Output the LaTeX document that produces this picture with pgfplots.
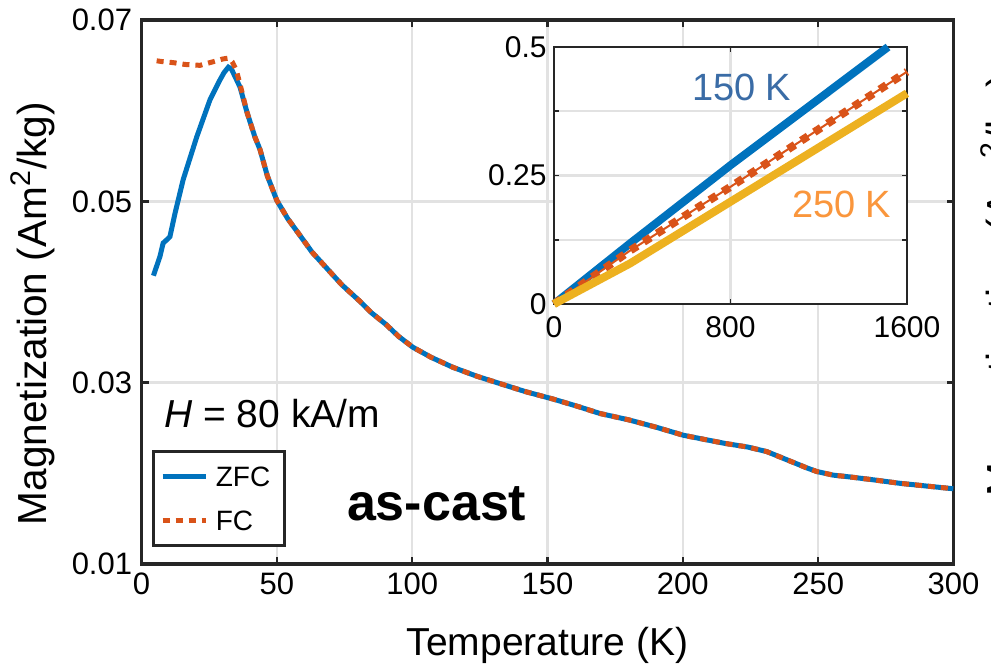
\documentclass[border=0pt]{standalone}
\usepackage{fontspec}
\setmainfont{Liberation Sans}
\usepackage{pgfplots}
\pgfplotsset{compat=1.18}

\definecolor{zfcblue}{RGB}{0,114,189}
\definecolor{fcorange}{RGB}{217,83,25}
\definecolor{matyellow}{RGB}{237,177,32}
\definecolor{gridgray}{RGB}{226,226,226}
\definecolor{axisdark}{RGB}{38,38,38}
\definecolor{txtblue}{RGB}{58,108,166}
\definecolor{txtorange}{RGB}{250,150,60}

% 1 px of the reference = 0.5pt
\begin{document}
\begin{tikzpicture}
\useasboundingbox (0,0) rectangle (495.5pt,333pt);

\begin{axis}[
  at={(70.75pt,51pt)}, anchor=south west,
  scale only axis, width=406pt, height=272pt,
  xmin=0, xmax=300, ymin=0.01, ymax=0.07,
  xtick={0,50,...,300},
  ytick={0.01,0.03,0.05,0.07},
  yticklabels={0.01,0.03,0.05,0.07},
  scaled y ticks=false,
  /pgf/number format/assume math mode=true,
  ticklabel style={font=\fontsize{15.5}{18}\selectfont},
  xticklabel style={inner sep=0pt, yshift=-4pt},
  yticklabel style={inner sep=0pt, xshift=-4.5pt},
  grid=major,
  major grid style={line width=1.2pt, gridgray},
  axis line style={line width=1.65pt, axisdark},
  tick style={line width=1.2pt, axisdark},
  major tick length=3.5pt,
  tick align=inside,
  xlabel={Temperature (K)},
  ylabel={Magnetization (Am\textsuperscript{2}/kg)},
  xlabel style={font=\fontsize{19.5}{22}\selectfont, at={(axis description cs:0.5,0)}, anchor=base, yshift=-45.5pt},
  ylabel style={font=\fontsize{20.3}{23}\selectfont, at={(axis description cs:-0.1176,0.46)}, anchor=base},
  legend style={at={(rel axis cs:0.0126,0.0307)}, anchor=south west,
    draw=axisdark, line width=1.5pt, fill=white,
    font=\fontsize{14}{16}\selectfont,
    inner xsep=3.5pt, inner ysep=7.65pt, row sep=12pt,
    nodes={inner sep=0pt, text height=10pt, text depth=0pt, text width=31pt, align=left}},
  legend image code/.code={\draw[#1] (0pt,0pt) -- (21.5pt,0pt);},
  /tikz/every odd column/.append style={column sep=3.8pt},
  legend cell align=left,
]
\addplot[zfcblue, line width=2.5pt] coordinates {
(4.4,0.0418) (6.8,0.0439) (8.0,0.0454) (9.5,0.0458) (10.5,0.0461) (12.4,0.0487)
(15.4,0.0524) (20.4,0.0571) (25.3,0.0612) (29.0,0.0634) (30.5,0.0642) (32.1,0.0648)
(33.2,0.0646) (34.5,0.0638) (36.4,0.0626) (39.0,0.0598) (41.9,0.0571) (43.8,0.0557)
(46.5,0.0528) (50.0,0.0501) (54.0,0.0481) (58.4,0.0463) (63.0,0.0444) (68.2,0.0427)
(74.0,0.0408) (80.6,0.0390) (85.0,0.0377) (90.4,0.0364) (95.0,0.0351) (100.3,0.0339)
(107,0.0328) (115,0.0317) (124,0.0307) (133.5,0.0298) (142,0.0290) (152,0.0282)
(161,0.0274) (169.4,0.0266) (180,0.0259) (190,0.0251) (200.2,0.0242) (207,0.0238)
(215.6,0.0233) (224,0.0229) (231,0.0224) (238.4,0.0215) (245.8,0.0206) (249.5,0.0202)
(255.6,0.0198) (261.8,0.0196) (270,0.0193) (280.2,0.0189) (290,0.0186) (299.9,0.0183)
};
\addlegendentry{ZFC}
\addplot[fcorange, line width=2.5pt, dash pattern=on 3.5pt off 3pt] coordinates {
(5.6,0.0655) (8.0,0.0654) (11.7,0.0653) (16.0,0.0651) (21.6,0.0650) (26.5,0.0654)
(30.0,0.0657) (32.1,0.0658) (33.5,0.0654) (35.0,0.0645) (36.5,0.0628) (39.0,0.0598)
(41.9,0.0571) (43.8,0.0557)
(46.5,0.0528) (50.0,0.0501) (54.0,0.0481) (58.4,0.0463) (63.0,0.0444) (68.2,0.0427)
(74.0,0.0408) (80.6,0.0390) (85.0,0.0377) (90.4,0.0364) (95.0,0.0351) (100.3,0.0339)
(107,0.0328) (115,0.0317) (124,0.0307) (133.5,0.0298) (142,0.0290) (152,0.0282)
(161,0.0274) (169.4,0.0266) (180,0.0259) (190,0.0251) (200.2,0.0242) (207,0.0238)
(215.6,0.0233) (224,0.0229) (231,0.0224) (238.4,0.0215) (245.8,0.0206) (249.5,0.0202)
(255.6,0.0198) (261.8,0.0196) (270,0.0193) (280.2,0.0189) (290,0.0186) (299.9,0.0183)
};
\addlegendentry{FC}
\node[anchor=base west, inner sep=0pt, font=\fontsize{19.5}{22}\selectfont]
  at (axis cs:8.3,0.0251) {\textit{H} = 80 kA/m};
\node[anchor=base west, inner sep=0pt, font=\fontsize{26}{30}\selectfont\bfseries]
  at (axis cs:75.8,0.01485) {as-cast};
\end{axis}

\begin{axis}[
  at={(277pt,181pt)}, anchor=south west,
  scale only axis, width=176.5pt, height=128.5pt,
  xmin=0, xmax=1600, ymin=0, ymax=0.5,
  xtick={0,800,1600}, xticklabels={0,800,1600},
  ytick={0,0.125,0.25,0.375,0.5}, yticklabels={0,,0.25,,0.5},
  scaled y ticks=false,
  axis background/.style={fill=white},
  clip=false,
  /pgf/number format/assume math mode=true,
  ticklabel style={font=\fontsize{15}{18}\selectfont},
  xticklabel style={inner sep=0pt, yshift=-6pt},
  yticklabel style={inner sep=0pt, xshift=-3.5pt},
  grid=major,
  major grid style={line width=1.1pt, gridgray},
  axis line style={line width=1pt, axisdark},
  tick style={line width=0.9pt, axisdark},
  major tick length=2.6pt,
  tick align=inside,
]
\addplot[zfcblue, line width=4pt] coordinates {(0,0) (345,0.118) (800,0.270) (1514,0.5)};
\addplot[fcorange, line width=1pt] coordinates {(0,0) (345,0.104) (800,0.228) (1600,0.452)};
\addplot[fcorange, line width=4pt, dash pattern=on 4pt off 3.8pt] coordinates {(0,0) (345,0.104) (800,0.228) (1600,0.452)};
\addplot[matyellow, line width=4pt] coordinates {(0,0) (345,0.079) (800,0.199) (1600,0.41)};
\node[anchor=base west, inner sep=0pt, text=txtblue, font=\fontsize{19}{22}\selectfont]
  at (axis cs:624,0.3955) {150 K};
\node[anchor=base west, inner sep=0pt, text=txtorange, font=\fontsize{19}{22}\selectfont]
  at (axis cs:1077,0.1687) {250 K};
\end{axis}

% label of the neighbouring panel, cut by the right edge as in the reference
\node[rotate=90, anchor=base, inner sep=0pt, font=\fontsize{20.3}{23}\selectfont]
  at (507.8pt,190.5pt) {Magnetization (Am\textsuperscript{2}/kg)};
\end{tikzpicture}
\end{document}
